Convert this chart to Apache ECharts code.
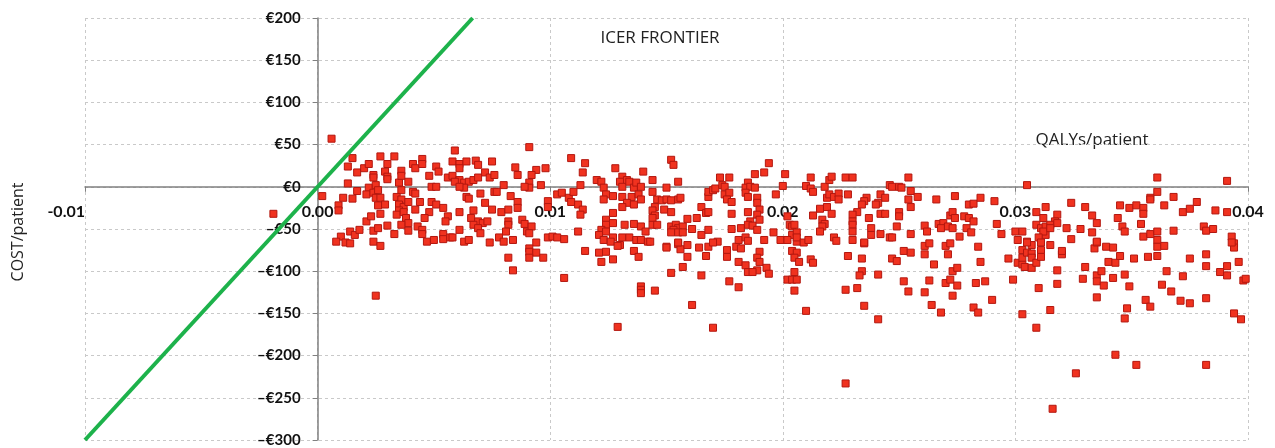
<!DOCTYPE html>
<html>
<head>
<meta charset="utf-8">
<script src="https://cdn.jsdelivr.net/npm/echarts@6/dist/echarts.min.js"></script>
<style>
  html, body { margin: 0; padding: 0; background: #fff; }
  #chart { width: 1275px; height: 448px; }
</style>
</head>
<body>
<div id="chart"></div>
<script>
// axis ranges / ticks
var xTicks = [-0.01, 0.00, 0.01, 0.02, 0.03, 0.04]
var yTicks = [-300, -250, -200, -150, -100, -50, 0, 50, 100, 150, 200]

// ICER frontier (30000 €/QALY) end points
var frontier = [[-0.01, -300], [0.006667, 200]]

// bootstrap simulations: [QALYs/patient, cost/patient]
var simsLeft = [
  [-0.0019,-32],[0.0002,-11],[0.0006,57],
  [0.0015,34],[0.0013,24],[0.0017,17],[0.0013,4],[0.0017,-5],[0.0011,-13],[0.0015,-14],[0.0009,-22],[0.0009,-28],[0.0014,-53],[0.0016,-57],[0.0010,-59],[0.0008,-65],[0.0012,-66],[0.0014,-67],[0.0018,-51],[0.0021,-41],[0.0023,-35],
  [0.0020,22],[0.0022,27],[0.0024,14],[0.0024,11],[0.0022,-1],[0.0021,-9],[0.0024,-7],[0.0025,2],[0.0026,-4],[0.0025,-13],[0.0027,-13],[0.0026,-22],[0.0029,-21],[0.0027,-32],[0.0024,-52],[0.0026,-49],[0.0030,-46],[0.0024,-65],[0.0027,-70],[0.0025,-129],
  [0.0027,36],[0.0033,36],[0.0030,27],[0.0029,18],[0.0030,12],[0.0030,9],[0.0035,5],[0.0036,19],[0.0036,13],[0.0039,6],[0.0036,-4],[0.0034,-12],[0.0036,-15],[0.0035,-21],[0.0037,-24],[0.0039,-18],[0.0035,-28],[0.0034,-33],[0.0037,-30],[0.0038,-37],[0.0039,-43],[0.0036,-45],[0.0039,-52],[0.0033,-56],
  [0.0041,27],[0.0042,22],[0.0045,33],[0.0045,27],[0.0048,13],[0.0051,24],[0.0052,18],[0.0049,0],[0.0051,0],[0.0056,11],[0.0041,-6],[0.0042,-8],[0.0044,-18],[0.0049,-18],[0.0051,-21],[0.0054,-25],[0.0042,-27],[0.0048,-30],[0.0046,-37],[0.0056,-35],[0.0055,-41],[0.0043,-47],[0.0045,-51],[0.0045,-56],[0.0047,-65],[0.0050,-63],[0.0054,-56],[0.0054,-62],[0.0057,-60]
]
var simsMid1 = [
  [0.0059,43],[0.0058,30],[0.0061,27],[0.0061,22],[0.0064,30],[0.0068,31],[0.0069,26],[0.0058,13],[0.0061,8],[0.0059,6],[0.0063,5],[0.0065,6],[0.0067,8],[0.0069,11],[0.0072,17],[0.0074,11],[0.0076,14],[0.0063,-1],[0.0061,0],[0.0064,-12],[0.0065,-14],[0.0070,-8],[0.0076,-6],[0.0080,2],[0.0075,30],[0.0085,23],[0.0086,14],[0.0091,47],[0.0094,20],[0.0098,22],[0.0092,14],[0.0091,5],[0.0091,-1],[0.0096,2],[0.0089,0],[0.0083,-11],[0.0086,-18],[0.0077,-6],[0.0072,-19],[0.0075,-27],[0.0079,-30],[0.0082,-27],[0.0086,-25],[0.0067,-28],[0.0061,-30],[0.0066,-37],[0.0069,-41],[0.0071,-43],[0.0067,-45],[0.0069,-49],[0.0070,-55],[0.0073,-41],[0.0082,-41],[0.0082,-45],[0.0081,-53],[0.0088,-39],[0.0089,-44],[0.0090,-53],[0.0092,-47],[0.0091,-55],[0.0061,-51],[0.0058,-60],[0.0063,-65],[0.0065,-63],[0.0074,-66],[0.0078,-60],[0.0080,-65],[0.0084,-63],[0.0094,-66],[0.0091,-73],[0.0091,-77],[0.0094,-78],[0.0091,-84],[0.0097,-84],[0.0082,-84],[0.0084,-99],[0.0099,-60],[0.0101,-59],[0.0103,-60],[0.0106,-62],[0.0099,-17],[0.0099,-24],[0.0103,-9],[0.0105,-7],[0.0108,-13],[0.0110,-6],[0.0109,-18],[0.0112,-21],[0.0114,-27],[0.0113,-33],[0.0113,2],[0.0109,34],[0.0115,28],[0.0114,17],[0.0106,-108],[0.0112,-53],[0.0115,-76],
  [0.0120,8],[0.0122,6],[0.0123,-1],[0.0124,-9],[0.0123,-15],[0.0127,-11],[0.0128,22],[0.0131,12],[0.0133,8],[0.0130,6],[0.0131,0],[0.0134,6],[0.0136,-1],[0.0137,5],[0.0139,0],[0.0140,18],[0.0131,-12],[0.0135,-12],[0.0138,-9],[0.0139,-15],[0.0133,-19],[0.0136,-21],[0.0131,-24],[0.0127,-31],[0.0124,-39],[0.0127,-43],[0.0124,-45],[0.0122,-51],[0.0124,-53],[0.0121,-57],[0.0123,-63],[0.0127,-60],[0.0126,-65],[0.0132,-45],[0.0136,-44],[0.0139,-47],[0.0141,-53],[0.0131,-60],[0.0134,-60],[0.0137,-63],[0.0139,-63],[0.0142,-65],[0.0130,-69],[0.0136,-76],[0.0121,-78],[0.0124,-77],[0.0122,-89],[0.0127,-86],[0.0139,-118],[0.0139,-122],[0.0139,-126],
  [0.0129,-70],[0.0138,-83],[0.0145,-123],[0.0129,-166],[0.0150,-71],[0.0152,-102],[0.0155,-68],[0.0156,-74],[0.0157,-95],[0.0159,-69],[0.0159,-83],[0.0161,-140],[0.0164,-72],[0.0165,-105],[0.0167,-82],[0.0168,-71],[0.0170,-167],[0.0172,-65],[0.0176,-75],[0.0176,-83],[0.0177,-112],[0.0180,-71],[0.0182,-73],[0.0181,-89],[0.0181,-119],[0.0184,-93],[0.0185,-101]
]
var simsMid2 = [
  [0.0152,32],[0.0153,26],[0.0144,8],[0.0150,-1],[0.0155,6],[0.0144,-6],[0.0146,-15],[0.0148,-16],[0.0150,-15],[0.0152,-16],[0.0155,-15],[0.0156,-13],[0.0145,-24],[0.0144,-28],[0.0145,-34],[0.0144,-37],[0.0144,-45],[0.0146,-45],[0.0149,-27],[0.0152,-30],[0.0152,-47],[0.0154,-45],[0.0155,-49],[0.0157,-47],[0.0153,-51],[0.0152,-54],[0.0155,-54],[0.0157,-54],[0.0161,-50],[0.0143,-65],[0.0150,-72],[0.0155,-66],[0.0159,-38],[0.0163,-37],
  [0.0165,-57],[0.0168,-51],[0.0170,-66],[0.0165,-24],[0.0167,-31],[0.0168,-30],[0.0168,-12],[0.0168,-6],[0.0170,-4],[0.0171,-2],[0.0173,11],[0.0174,2],[0.0175,0],[0.0177,11],[0.0175,-9],[0.0177,-7],[0.0176,-15],[0.0178,-18],[0.0178,-32],[0.0178,-50],[0.0182,-49],[0.0181,-63],[0.0184,-60],[0.0185,-64],[0.0185,5],[0.0184,-1],[0.0186,0],[0.0188,-1],[0.0184,-7],[0.0185,-12],[0.0185,-30],[0.0186,-41],[0.0185,-45],[0.0187,-46],[0.0189,-51],[0.0189,-13],[0.0189,-19],[0.0190,-27],[0.0189,-33],[0.0190,-39],[0.0188,15],[0.0192,17],[0.0194,28],[0.0192,-63],[0.0190,-77],[0.0189,-84],[0.0190,-89],[0.0189,-99],[0.0187,-101],[0.0193,-96],[0.0194,-103],[0.0196,-54],[0.0197,-9],[0.0199,-63],[0.0201,15],[0.0200,1],
  [0.0202,-35],[0.0203,-45],[0.0204,-47],[0.0205,-45],[0.0204,-57],[0.0206,-54],[0.0202,-63],[0.0206,-65],[0.0206,-60],[0.0209,-66],[0.0211,-63],[0.0204,-76],[0.0206,-78],[0.0205,-84],[0.0207,-89],[0.0212,-86],[0.0213,-90],[0.0202,-110],[0.0204,-110],[0.0206,-110],[0.0205,-101],[0.0205,-123],[0.0210,1],[0.0212,-2],[0.0212,11],[0.0213,-6],[0.0213,-34],[0.0216,-26],[0.0218,0],[0.0219,-13],[0.0220,8],[0.0221,12],[0.0220,-9],[0.0222,-12],[0.0224,-8],[0.0224,-15],[0.0219,-24],[0.0221,-32],[0.0217,-39],[0.0218,-44],[0.0217,-47],[0.0216,-53],[0.0222,-60],[0.0223,-64],[0.0227,11],[0.0228,-9],[0.0227,-122],[0.0210,-147]
]
var simsRight1 = [
  [0.0228,-82],[0.0227,-233],[0.0234,-85],[0.0234,-100],[0.0233,-105],[0.0235,-141],[0.0235,-67],[0.0241,-104],[0.0241,-157],[0.0247,-85],[0.0249,-88],[0.0252,-76],[0.0255,-78],[0.0252,-112],[0.0254,-124],[0.0261,-80],[0.0261,-70],[0.0263,-67],[0.0261,-125],[0.0263,-111],[0.0264,-140],[0.0265,-92],[0.0268,-149],[0.0270,-114],[0.0272,-110],[0.0271,-80],[0.0273,-100],[0.0270,-70],[0.0272,-67],[0.0273,-129],[0.0275,-96],[0.0275,-117],[0.0282,-143],[0.0284,-149],[0.0283,-114],[0.0284,-71],[0.0285,-89],[0.0287,-112],[0.0290,-134],[0.0297,-85],[0.0299,-110],
  [0.0230,11],[0.0246,2],[0.0247,0],[0.0250,0],[0.0251,-1],[0.0254,11],[0.0255,-5],[0.0254,-15],[0.0255,-24],[0.0258,-12],[0.0242,-9],[0.0244,-13],[0.0241,-19],[0.0240,-21],[0.0236,-13],[0.0235,-17],[0.0234,-21],[0.0232,-30],[0.0237,-37],[0.0242,-32],[0.0244,-32],[0.0230,-33],[0.0230,-41],[0.0230,-45],[0.0230,-53],[0.0230,-63],[0.0238,-49],[0.0238,-57],[0.0242,-56],[0.0246,-60],[0.0247,-60],[0.0235,-66],[0.0250,-30],[0.0250,-35],[0.0249,-47],[0.0255,-56],[0.0232,-120],[0.0261,-46],[0.0262,-53],[0.0266,-15],[0.0267,-44],[0.0269,-43],[0.0268,-49],[0.0272,-34],[0.0273,-30],[0.0274,-37],[0.0274,-11],[0.0271,-47],[0.0273,-49],[0.0276,-59],[0.0278,-35],[0.0280,-37],[0.0279,-49],[0.0281,-54],[0.0282,-41],[0.0280,-21],[0.0282,-20],[0.0285,-13],[0.0291,-17],[0.0292,-44],[0.0294,-56]
]
var simsRight2 = [
  [0.0305,2],[0.0300,-53],[0.0301,-63],[0.0303,-53],[0.0305,-65],[0.0307,-69],[0.0309,-45],[0.0311,-49],[0.0313,-47],[0.0313,-57],[0.0312,-53],[0.0310,-60],[0.0313,-24],[0.0309,-30],[0.0312,-37],
  [0.0303,-75],[0.0301,-90],[0.0303,-92],[0.0304,-95],[0.0303,-84],[0.0303,-151],[0.0305,-66],[0.0305,-78],[0.0307,-79],[0.0307,-84],[0.0307,-96],[0.0309,-90],[0.0309,-167],[0.0310,-120],[0.0311,-66],[0.0311,-75],[0.0311,-83],[0.0315,-69],[0.0315,-146],[0.0318,-115],[0.0318,-99],[0.0316,-263],[0.0320,-80],[0.0320,-76],[0.0326,-221],[0.0329,-109],[0.0330,-95],[0.0334,-73],[0.0335,-66],[0.0335,-105],[0.0335,-112],[0.0335,-131],[0.0337,-100],[0.0338,-117],[0.0339,-71],[0.0342,-72],[0.0340,-89],[0.0343,-90],[0.0342,-108],[0.0343,-199],[0.0345,-82],[0.0347,-104],[0.0348,-144],[0.0347,-156],[0.0349,-118],[0.0351,-85],[0.0352,-211],[0.0356,-134],[0.0358,-142],[0.0357,-83],[0.0361,-82],[0.0361,-63],[0.0361,-71],[0.0364,-70],[0.0363,-116],[0.0365,-100],[0.0367,-124],[0.0371,-135],[0.0372,-106],[0.0375,-85],[0.0375,-138],[0.0382,-80],[0.0382,-94],[0.0382,-132],[0.0382,-211],[0.0388,-101],[0.0391,-94],[0.0391,-105],[0.0394,-67],[0.0394,-72],[0.0396,-89],[0.0394,-150],[0.0397,-157],[0.0398,-111],[0.0399,-109],
  [0.0318,-33],[0.0317,-41],[0.0315,-45],[0.0318,-43],[0.0315,-49],[0.0324,-19],[0.0322,-49],[0.0324,-62],[0.0328,-50],[0.0330,-24],[0.0333,-34],[0.0333,-54],[0.0335,-43],[0.0335,-65],[0.0345,-22],[0.0344,-37],[0.0349,-25],[0.0346,-47],[0.0347,-53],[0.0352,-22],[0.0355,-25],[0.0355,-32],[0.0354,-44],[0.0355,-59],[0.0358,-13],[0.0358,-15],[0.0358,-56],[0.0361,-53],[0.0361,-6],[0.0361,11],[0.0364,-22],[0.0368,-12],[0.0368,-52],[0.0372,-30],[0.0375,-26],[0.0378,-18],[0.0381,-47],[0.0382,-52],[0.0385,-50],[0.0386,-28],[0.0391,-30],[0.0391,7],[0.0393,-59],[0.0393,-66]
]

var sims = simsLeft.concat(simsMid1, simsMid2, simsRight1, simsRight2)

var chart = echarts.init(document.getElementById('chart'))

// plot box in pixels; the axes are shifted inward so they cross at (0, 0)
var gridBox = { left: 85, right: 27, top: 18, bottom: 8 }
var plotW = 1275 - gridBox.left - gridBox.right
var plotH = 448 - gridBox.top - gridBox.bottom
var xZeroShift = plotW * (0 - xTicks[0]) / (xTicks[xTicks.length - 1] - xTicks[0])
var yZeroShift = plotH * (0 - yTicks[0]) / (yTicks[yTicks.length - 1] - yTicks[0])

var gridLine = { show: true, lineStyle: { color: '#c9c9c9', type: [3, 3], width: 1 } }

chart.setOption({
    animation: false,
    grid: { left: gridBox.left, right: gridBox.right, top: gridBox.top, bottom: gridBox.bottom, outerBoundsMode: 'none' },
    xAxis: {
        type: 'value',
        position: 'bottom',
        offset: -yZeroShift,
        min: xTicks[0],
        max: xTicks[xTicks.length - 1],
        interval: 0.01,
        axisLine: { onZero: false, lineStyle: { color: '#808080', width: 1.5 } },
        axisTick: { show: true, length: 5, lineStyle: { color: '#808080' } },
        splitLine: gridLine,
        axisLabel: {
            margin: 17,
            color: '#111',
            fontFamily: 'Lato',
            fontWeight: 'bold',
            fontSize: 16,
            alignMinLabel: 'right',
            formatter: function (v) { return v.toFixed(2) }
        }
    },
    yAxis: {
        type: 'value',
        position: 'left',
        offset: -xZeroShift,
        min: yTicks[0],
        max: yTicks[yTicks.length - 1],
        interval: 50,
        axisLine: { onZero: false, lineStyle: { color: '#808080', width: 1.5 } },
        axisTick: { show: true, length: 5, lineStyle: { color: '#808080' } },
        splitLine: gridLine,
        axisLabel: {
            margin: 17,
            color: '#111',
            fontFamily: 'Lato',
            fontWeight: 'bold',
            fontSize: 15,
            formatter: function (v) { return v < 0 ? '\u2013\u20ac' + (-v) : '\u20ac' + v }
        }
    },
    graphic: [
        { type: 'text', x: 660, y: 38, style: { text: 'ICER FRONTIER', font: '17px "Open Sans"', fill: '#222', align: 'center', verticalAlign: 'middle', textAlign: 'center', textVerticalAlign: 'middle' } },
        { type: 'text', x: 1092, y: 140, style: { text: 'QALYs/patient', font: '17px "Open Sans"', fill: '#222', align: 'center', verticalAlign: 'middle', textAlign: 'center', textVerticalAlign: 'middle' } },
        { type: 'text', x: 18, y: 232, rotation: Math.PI / 2, style: { text: 'COST/patient', font: '16px "Open Sans"', fill: '#222', align: 'center', verticalAlign: 'middle', textAlign: 'center', textVerticalAlign: 'middle' } }
    ],
    series: [
        {
            type: 'scatter',
            data: sims,
            symbol: 'rect',
            symbolSize: 7,
            itemStyle: { color: '#f0321f', borderColor: '#b3170f', borderWidth: 1, opacity: 1 },
            z: 2
        },
        {
            type: 'line',
            data: frontier,
            symbol: 'none',
            lineStyle: { color: '#1db24b', width: 4 },
            z: 3
        }
    ]
})
</script>
</body>
</html>
